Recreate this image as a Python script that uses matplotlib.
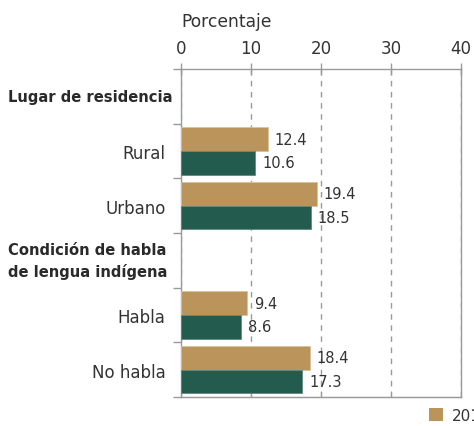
import matplotlib
matplotlib.use("Agg")
import matplotlib.pyplot as plt
from matplotlib.patches import Patch
from matplotlib.transforms import blended_transform_factory

plt.rcParams['font.family'] = ['DejaVu Sans']

rows = ["Lugar de residencia", "Rural", "Urbano",
        "Condición de habla\nde lengua indígena", "Habla", "No habla"]
is_header = [True, False, False, True, False, False]
series_names = ["2018", "2020"]
vals_a = [None, 12.4, 19.4, None, 9.4, 18.4]
vals_b = [None, 10.6, 18.5, None, 8.6, 17.3]
xticks = [0, 10, 20, 30, 40]

gold = "#BA945A"
green = "#235B4E"
grey = "#9a9a9a"
txt = "#333333"

fig = plt.figure(figsize=(4.74, 4.27), dpi=100)
ax = fig.add_axes([181/474, 1-398/427, (461-181)/474, (398-70)/427])

h = 0.43
off = 0.215
for i, (a, b, hd) in enumerate(zip(vals_a, vals_b, is_header)):
    if hd:
        continue
    ax.barh(i - off, a, height=h, color=gold, edgecolor="#d9c29a", linewidth=0.6, zorder=3)
    ax.barh(i + off, b, height=h, color=green, edgecolor="#5f8a7e", linewidth=0.6, zorder=3)
    ax.annotate(f"{a:.1f}", (a, i - off), xytext=(5, 0), textcoords="offset points",
                va="center", ha="left", fontsize=10.5, color=txt)
    ax.annotate(f"{b:.1f}", (b, i + off), xytext=(5, 0), textcoords="offset points",
                va="center", ha="left", fontsize=10.5, color=txt)

ax.set_xlim(0, 40)
ax.set_ylim(5.5, -0.5)

ax.xaxis.tick_top()
ax.xaxis.set_label_position("top")
ax.set_xticks(xticks)
ax.set_xticklabels([str(t) for t in xticks], fontsize=12, color=txt)
ax.tick_params(axis="x", which="major", direction="inout", length=8, width=1,
               color=grey, pad=5, top=True, bottom=False)
ax.set_xlabel("Porcentaje", loc="left", fontsize=12.3, color=txt, labelpad=9)

sec = ax.secondary_xaxis("bottom")
sec.set_xticks(xticks)
sec.tick_params(direction="in", length=4, color=grey, labelbottom=False)
sec.spines["bottom"].set_color(grey)

ax.set_yticks([i for i, hd in enumerate(is_header) if not hd])
ax.set_yticklabels([r for r, hd in zip(rows, is_header) if not hd], fontsize=12, color=txt)
ax.set_yticks([i - 0.5 for i in range(len(rows) + 1)], minor=True)
ax.tick_params(axis="y", which="major", length=0, pad=11)
ax.tick_params(axis="y", which="minor", length=6, width=1, color=grey)

tr = blended_transform_factory(fig.transFigure, ax.transData)
for i, (r, hd) in enumerate(zip(rows, is_header)):
    if hd:
        ax.text(8/474, i, r, transform=tr, ha="left", va="center", fontsize=10.6,
                fontweight="semibold", color="#2a2a2a", linespacing=1.5)

for s in ax.spines.values():
    s.set_color(grey)
    s.set_linewidth(1)

ax.grid(axis="x", color=grey, linestyle=(0, (4, 4)), linewidth=1, zorder=0)
ax.set_axisbelow(True)

handles = [Patch(facecolor=gold, label=series_names[0]),
           Patch(facecolor=green, label=series_names[1])]
fig.legend(handles=handles, loc="upper left", bbox_to_anchor=(429/474, 1-409/427),
           ncol=2, frameon=False, fontsize=11, handlelength=0.9, handleheight=0.9,
           borderpad=0, borderaxespad=0, handletextpad=0.6, columnspacing=1.5,
           labelcolor=txt)

fig.savefig("out.png", dpi=100)
